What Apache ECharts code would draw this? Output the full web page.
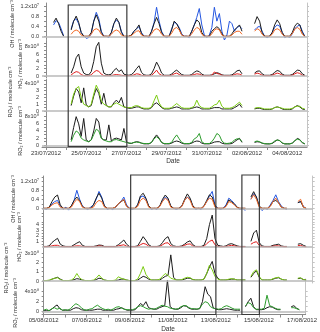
<!DOCTYPE html>
<html>
<head>
<meta charset="utf-8" />
<title>OH / HO2 / RO2</title>
<script type="text/javascript" src="https://cdn.jsdelivr.net/npm/echarts@6/dist/echarts.min.js"></script>
<style>
html, body { margin: 0; padding: 0; background: #fff; }
#main { width: 320px; height: 332px; }
</style>
</head>
<body>
<div id="main"></div>
<script type="text/javascript">
// 3-hourly values, top block starts 23/07/2012 00:00, bottom block starts 05/08/2012 00:00
var stepHours = 3;

// ---- top block (23/07 - 04/08), OH in 1e7, others in 1e8 ----
var topOhBlue = [
  null,null,null,0.45,0.62,0.55,0.3,0.02,
  null,null,0.3,0.62,0.7,0.5,0.15,0.02,
  -0.08,-0.05,0.1,0.6,0.95,0.7,0.2,0.0,
  0.0,-0.05,0.15,0.5,0.65,0.55,0.2,0.0,
  -0.05,0.0,0.05,0.2,0.3,0.38,0.15,0.0,
  0.0,-0.05,0.2,0.55,1.15,0.6,0.2,0.0,
  -0.05,0.0,0.3,0.55,0.5,0.35,0.1,0.0,
  0.0,-0.05,0.2,0.45,0.75,1.1,0.45,0.05,
  -0.05,0.05,0.35,1.15,0.6,0.9,0.2,-0.15,
  0.05,0.6,0.5,0.2,0.35,0.4,0.3,null,
  null,null,null,0.25,0.35,0.4,0.2,0.0,
  -0.05,0.0,0.15,0.35,0.45,0.4,0.15,-0.05,
  0.0,-0.05,0.1,0.3,0.4,0.45,0.2,0.0
];
var topOhBlack = [
  null,null,null,0.55,0.72,0.5,0.2,0.0,
  null,null,0.25,0.6,0.8,0.55,0.15,0.0,
  0.0,0.0,0.15,0.6,0.85,0.6,0.15,0.0,
  0.0,0.0,0.15,0.5,0.72,0.55,0.15,0.0,
  0.0,0.0,0.05,0.2,0.3,0.45,0.1,0.0,
  0.0,0.0,0.2,0.5,0.75,0.5,0.15,0.0,
  0.0,0.0,0.25,0.6,0.5,0.3,0.05,0.0,
  0.0,0.0,0.2,0.45,0.65,0.55,0.15,0.0,
  0.0,0.0,0.2,0.3,0.38,0.3,0.1,0.0,
  0.0,0.0,0.1,0.25,0.35,0.45,0.2,null,
  null,null,null,0.5,0.78,0.6,0.15,0.0,
  0.0,0.0,0.15,0.45,0.65,0.5,0.15,0.0,
  0.0,0.0,0.15,0.4,0.52,0.45,0.15,0.0
];
var topOhOrange = [
  null,null,null,null,null,null,null,null,
  null,null,0.08,0.2,0.25,0.2,0.05,0.0,
  0.0,0.0,0.08,0.25,0.3,0.25,0.08,0.0,
  0.0,0.0,0.08,0.2,0.25,0.2,0.05,0.0,
  0.0,0.0,0.03,0.12,0.2,0.22,0.05,0.0,
  0.0,0.0,0.1,0.25,0.3,0.25,0.08,0.0,
  0.0,0.0,0.12,0.3,0.35,0.25,0.05,0.0,
  0.0,0.0,0.1,0.25,0.35,0.3,0.08,0.0,
  0.0,0.0,0.1,0.25,0.3,0.25,0.05,0.0,
  0.0,0.0,0.05,0.15,0.2,0.2,0.08,null,
  null,null,null,0.2,0.3,0.25,0.08,0.0,
  0.0,0.0,0.08,0.25,0.3,0.25,0.08,0.0,
  0.0,0.0,0.1,0.28,0.35,0.28,0.08,0.0
];
var topHo2Black = [
  null,null,null,null,null,null,null,null,
  null,null,0.8,2.5,5.0,6.0,2.5,0.8,
  0.4,0.3,1.2,4.0,8.0,9.2,3.5,0.8,
  0.4,0.3,0.5,1.5,2.1,1.2,1.7,0.5,
  0.3,0.2,0.4,1.0,2.0,2.8,1.0,0.3,
  0.2,0.2,0.6,2.0,3.8,2.5,0.8,0.2,
  0.2,0.2,0.5,1.2,1.6,1.0,0.4,0.2,
  0.2,0.2,0.4,1.0,1.4,1.2,0.5,0.2,
  0.2,0.2,0.3,0.6,0.9,0.7,0.3,0.2,
  0.2,0.2,0.3,0.8,1.4,1.6,0.6,null,
  null,null,null,0.8,1.3,1.4,0.6,0.2,
  0.2,0.2,0.4,1.0,1.5,1.3,0.5,0.2,
  0.2,0.2,0.4,1.0,1.6,1.5,0.6,0.2
];
var topHo2Red = [
  null,null,null,null,null,null,null,null,
  null,null,0.3,0.8,1.2,1.0,0.4,0.1,
  0.1,0.1,0.3,1.0,1.5,1.3,0.5,0.1,
  0.1,0.1,0.1,0.3,0.4,0.3,0.2,0.1,
  0.1,0.1,0.1,0.3,0.6,0.5,0.2,0.1,
  0.1,0.1,0.2,0.8,1.6,0.6,0.2,0.1,
  0.1,0.1,0.2,0.6,0.8,0.4,0.1,0.1,
  0.1,0.1,0.2,0.4,0.6,0.5,0.2,0.1,
  0.1,0.1,0.2,1.1,0.7,0.5,0.2,0.1,
  0.1,0.1,0.1,0.4,0.6,0.5,0.2,null,
  null,null,null,0.5,0.8,0.6,0.2,0.1,
  0.1,0.1,0.2,0.5,0.8,0.6,0.2,0.1,
  0.1,0.1,0.2,0.6,0.9,0.7,0.2,0.1
];
var topRo2iGreen = [
  null,null,null,null,null,null,null,null,
  null,null,1.0,2.5,3.3,3.6,2.0,1.0,
  0.8,0.6,1.0,2.5,3.8,3.0,1.5,1.0,
  0.8,0.6,0.7,1.0,1.2,1.0,0.8,0.6,
  0.5,0.5,0.5,0.7,0.8,0.7,0.5,0.4,
  0.4,0.4,0.6,1.5,2.35,1.2,0.6,0.4,
  0.4,0.4,0.5,0.8,1.1,0.8,0.5,0.4,
  0.4,0.4,0.5,0.7,1.6,0.8,0.5,0.4,
  0.4,0.4,0.6,0.9,1.0,1.6,0.7,0.4,
  0.4,0.4,0.5,0.7,1.0,1.3,0.8,null,
  null,null,null,0.4,0.5,0.5,0.4,0.3,
  0.3,0.3,0.3,0.5,0.6,0.5,0.4,0.3,
  0.3,0.3,0.4,0.6,0.7,0.7,0.4,0.3
];
var topRo2iBlack = [
  null,null,null,null,null,null,null,null,
  null,null,0.8,2.2,3.3,2.8,1.2,3.4,
  0.9,0.6,0.8,2.2,3.3,2.6,1.0,2.6,
  0.8,0.6,0.6,1.2,1.6,1.2,2.0,0.6,
  0.5,0.4,0.4,0.5,0.6,0.6,0.4,0.3,
  0.3,0.3,0.5,1.0,1.2,0.9,0.5,0.3,
  0.3,0.3,0.4,0.5,0.6,0.5,0.3,0.3,
  0.3,0.3,0.4,0.5,0.6,0.5,0.3,0.3,
  0.3,0.3,0.4,0.5,0.5,0.5,0.3,0.3,
  0.3,0.3,0.3,0.5,0.7,1.0,0.5,null,
  null,null,null,0.3,0.4,0.4,0.3,0.2,
  0.2,0.2,0.3,0.5,0.6,0.5,0.3,0.2,
  0.2,0.2,0.3,0.6,0.8,0.6,0.3,0.2
];
var topRo2Green = [
  null,null,null,null,null,null,null,null,
  null,null,1.0,2.8,4.0,3.5,2.0,1.5,
  1.2,1.0,1.5,3.0,4.5,4.0,2.0,1.5,
  1.2,1.0,1.0,1.5,1.6,1.4,1.2,1.0,
  0.8,0.6,0.6,0.8,0.9,0.8,0.6,0.5,
  0.5,0.5,0.8,1.8,2.4,1.8,0.8,0.5,
  0.5,0.5,0.8,2.0,2.9,1.8,0.8,0.5,
  0.5,0.5,0.8,1.8,2.2,3.3,1.0,0.5,
  0.5,0.5,1.0,2.0,3.3,2.8,1.2,0.6,
  0.5,0.6,0.8,1.5,1.8,1.8,1.0,null,
  null,null,null,1.0,1.2,1.0,0.6,0.5,
  0.4,0.4,0.6,1.2,1.5,1.3,0.7,0.4,
  0.4,0.4,0.6,1.3,1.7,1.5,0.8,0.4
];
var topRo2Black = [
  null,null,null,null,null,null,null,null,
  null,null,1.5,5.0,8.0,6.0,2.5,7.5,
  1.5,1.0,1.5,4.0,7.5,6.5,2.0,1.5,
  1.5,5.7,1.2,1.8,2.0,1.8,1.5,4.7,
  1.0,0.6,0.5,0.8,1.0,0.9,0.6,0.4,
  0.4,0.4,0.8,2.0,2.9,2.0,0.8,0.4,
  0.4,0.4,0.6,1.0,1.2,1.0,0.6,0.4,
  0.4,0.4,0.6,1.0,1.2,1.1,0.6,0.4,
  0.4,0.4,0.6,0.9,1.0,1.0,0.6,0.4,
  0.4,0.4,0.5,1.0,1.5,1.95,0.8,null,
  null,null,null,0.8,1.0,0.9,0.6,0.4,
  0.4,0.4,0.5,1.0,1.5,1.3,0.6,0.4,
  0.4,0.4,0.6,1.2,1.95,1.6,0.7,0.4
];

// ---- bottom block (05/08 - 16/08) ----
var botOhBlue = [
  0.0,-0.05,0.05,0.2,0.3,0.35,0.1,-0.05,
  0.05,-0.08,0.1,0.35,0.8,0.4,0.1,0.0,
  -0.05,0.05,0.15,0.4,0.75,0.5,0.1,-0.05,
  0.0,-0.05,0.05,0.2,0.3,0.5,0.15,0.0,
  -0.05,0.0,0.15,0.5,0.55,0.4,0.1,-0.05,
  0.0,-0.05,0.1,0.35,0.5,0.4,0.1,0.0,
  -0.05,0.0,0.1,0.35,0.5,0.4,0.1,-0.05,
  0.0,-0.05,0.1,0.3,0.55,0.75,0.15,0.0,
  -0.05,0.0,0.15,0.45,0.35,0.2,0.05,-0.05,
  0.0,-0.1,null,0.4,0.65,0.5,0.1,-0.1,
  0.0,-0.05,0.15,0.35,0.6,0.3,0.1,0.0,
  -0.05,null,null,null,0.25,0.3,0.1,-0.05
];
var botOhBlack = [
  0.0,0.0,0.05,0.3,0.5,0.59,0.15,0.0,
  0.0,0.0,0.1,0.35,0.5,0.35,0.08,0.0,
  0.0,0.0,0.15,0.45,0.67,0.45,0.1,0.0,
  0.0,0.0,0.05,0.2,0.3,0.37,0.1,0.0,
  0.0,0.0,0.15,0.55,0.67,0.45,0.1,0.0,
  0.0,0.0,0.1,0.4,0.59,0.45,0.1,0.0,
  0.0,0.0,0.1,0.4,0.64,0.45,0.1,0.0,
  0.0,0.0,0.1,0.35,0.6,0.5,0.1,0.0,
  0.0,0.0,0.1,0.37,0.3,0.2,0.05,0.0,
  0.0,0.0,null,0.5,0.74,0.5,0.1,0.0,
  0.0,0.0,0.1,0.3,0.35,0.25,0.05,0.0,
  0.0,null,null,null,0.25,0.3,0.05,0.0
];
var botOhOrange = [
  0.0,0.0,0.03,0.15,0.22,0.25,0.05,0.0,
  0.0,0.0,0.05,0.25,0.4,0.3,0.05,0.0,
  0.0,0.0,0.05,0.25,0.35,0.3,0.05,0.0,
  0.0,0.0,0.05,0.2,0.3,0.4,0.08,0.0,
  0.0,0.0,0.08,0.35,0.45,0.35,0.05,0.0,
  0.0,0.0,0.08,0.3,0.45,0.35,0.05,0.0,
  0.0,0.0,0.08,0.35,0.5,0.35,0.05,0.0,
  0.0,0.0,0.08,0.3,0.45,0.4,0.05,0.0,
  0.0,0.0,0.08,0.3,0.25,0.15,0.03,0.0,
  0.0,0.0,null,0.4,0.6,0.4,0.05,0.0,
  0.0,0.0,0.08,0.3,0.45,0.25,0.05,0.0,
  0.0,null,null,null,0.3,0.4,0.05,0.0
];
var botHo2Black = [
  0.1,0.1,0.2,0.8,1.2,1.55,0.5,0.2,
  0.1,0.1,0.1,0.4,0.7,0.95,0.3,0.1,
  0.1,0.1,0.1,0.2,0.35,0.3,0.1,0.1,
  0.1,0.1,0.1,0.4,0.8,1.25,0.5,0.1,
  0.1,0.1,0.2,1.0,1.85,1.2,0.4,0.1,
  0.1,0.1,0.2,0.8,1.5,1.85,0.6,0.2,
  0.1,0.1,0.2,0.5,0.9,1.1,0.4,0.1,
  0.1,0.1,0.3,1.5,4.0,5.7,1.5,0.3,
  0.2,0.1,0.2,0.5,0.6,0.4,0.2,0.1,
  0.1,0.1,null,1.0,2.5,3.0,0.8,0.2,
  0.1,0.1,0.1,0.3,0.4,0.5,0.2,0.1,
  0.1,null,null,null,0.5,0.6,0.3,0.1
];
var botHo2Red = [
  0.05,0.05,0.1,0.2,0.3,0.3,0.1,0.05,
  0.05,0.05,0.05,0.15,0.2,0.2,0.1,0.05,
  0.05,0.05,0.05,0.1,0.2,0.15,0.05,0.05,
  0.05,0.05,0.05,0.2,0.3,0.4,0.15,0.05,
  0.05,0.05,0.1,0.4,0.65,0.5,0.15,0.05,
  0.05,0.05,0.1,0.4,0.7,0.75,0.2,0.05,
  0.05,0.05,0.1,0.3,0.5,0.55,0.15,0.05,
  0.05,0.05,0.1,0.6,1.0,1.25,0.4,0.1,
  0.05,0.05,0.1,0.2,0.3,0.2,0.1,0.05,
  0.05,0.05,null,0.5,0.8,0.95,0.3,0.05,
  0.05,0.05,0.05,0.15,0.2,0.2,0.1,0.05,
  0.05,null,null,null,0.25,0.3,0.1,0.05
];
var botRo2iGreen = [
  0.05,0.05,0.1,0.2,0.3,0.35,0.15,0.05,
  0.05,0.05,0.1,0.3,0.8,0.35,0.1,0.05,
  0.05,0.05,0.1,0.3,0.65,0.3,0.1,0.05,
  0.05,0.05,0.1,0.45,0.3,0.2,0.1,0.05,
  0.05,0.05,0.2,0.8,1.55,0.7,0.3,0.1,
  0.1,0.1,0.2,0.5,0.8,0.6,0.3,0.2,
  0.1,0.1,0.15,0.3,0.4,0.35,0.15,0.1,
  0.1,0.1,0.2,0.8,1.7,1.2,0.5,0.2,
  0.1,0.1,0.1,0.2,0.25,0.2,0.1,0.1,
  0.1,0.1,null,0.5,1.0,1.2,0.5,0.1,
  0.1,0.1,0.1,0.25,0.35,0.4,0.2,0.1,
  0.1,null,null,null,0.3,0.35,0.15,0.1
];
var botRo2iBlack = [
  0.05,0.05,0.05,0.2,0.3,0.4,0.2,0.05,
  0.05,0.05,0.05,0.15,0.25,0.2,0.1,0.05,
  0.05,0.05,0.05,0.15,0.3,0.25,0.1,0.05,
  0.05,0.05,0.05,0.1,0.2,0.2,0.1,0.05,
  0.05,0.05,0.1,0.3,0.5,0.4,0.2,0.1,
  0.1,0.1,0.1,0.3,0.5,0.6,2.8,0.4,
  0.1,0.1,0.1,0.2,0.3,0.3,0.15,0.1,
  0.1,0.1,0.2,0.8,1.5,2.1,0.8,0.3,
  0.1,0.1,0.1,0.15,0.2,0.2,0.1,0.1,
  0.1,0.1,null,0.4,0.8,1.1,0.4,0.1,
  0.1,0.1,0.1,0.2,0.3,0.35,0.2,0.1,
  0.1,null,null,null,0.25,0.3,0.15,0.1
];
var botRo2Green = [
  0.3,0.5,0.2,0.6,0.8,0.5,0.7,0.3,
  0.4,0.3,0.6,1.2,1.6,1.3,0.8,0.4,
  0.3,0.5,0.6,1.0,1.3,0.9,0.6,0.4,
  0.5,0.3,0.6,0.9,1.0,0.7,0.5,0.4,
  0.4,0.4,0.6,1.0,1.2,1.0,0.7,0.5,
  0.6,0.5,0.7,1.0,1.3,1.1,1.0,0.7,
  0.6,0.5,0.6,1.0,1.2,1.2,0.8,0.6,
  0.6,0.5,0.7,1.5,2.0,1.8,1.0,0.7,
  0.6,0.5,0.6,1.0,1.2,1.0,0.7,0.5,
  0.5,0.5,null,1.2,1.8,1.6,0.8,0.5,
  0.5,0.5,0.7,3.3,1.2,1.0,0.7,0.5,
  0.5,null,null,null,0.8,0.8,0.6,0.4
];
var botRo2Black = [
  0.2,0.2,0.2,0.5,1.0,1.35,0.6,0.3,
  0.3,0.3,0.3,0.6,0.8,0.7,0.4,0.3,
  0.3,0.3,0.3,0.4,0.5,0.5,0.3,0.3,
  0.3,0.3,0.3,0.5,0.6,0.8,0.5,0.3,
  0.3,0.3,0.4,1.0,1.65,1.2,2.0,0.8,
  0.6,0.5,0.5,0.8,1.0,1.2,6.3,1.0,
  0.6,0.5,0.5,0.8,1.2,1.1,0.7,0.5,
  0.5,0.5,0.6,2.0,5.0,3.5,3.0,0.8,
  0.5,0.4,0.4,0.5,0.6,0.5,0.4,0.3,
  0.3,0.3,null,1.0,2.0,2.7,1.0,0.4,
  0.4,0.4,0.5,0.8,1.0,0.9,0.6,0.4,
  0.4,null,null,null,1.0,1.2,0.7,0.4
];

// x tick labels (hours from block start)
var dateTickHours = [0, 48, 96, 144, 192, 240, 288];
var dayTickHours = [0, 24, 48, 72, 96, 120, 144, 168, 192, 216, 240, 264, 288];
var topDateLabels = ['23/07/2012', '25/07/2012', '27/07/2012', '29/07/2012', '31/07/2012', '02/08/2012', '04/08/2012'];
var botDateLabels = ['05/08/2012', '07/08/2012', '09/08/2012', '11/08/2012', '13/08/2012', '15/08/2012', '17/08/2012'];

// y tick labels per panel
var ohLabelVals = [0, 0.4, 0.8, 1.2];
var topOhLabels = ['0.0', '0.4', '0.8', '1.2x10\u2077'];
var botOhLabels = ['0', '0.4', '0.8', '1.2x10\u2077'];
var topHo2LabelVals = [0, 2, 4, 6, 8];
var topHo2Labels = ['0', '2', '4', '6', '8x10\u2078'];
var topRo2iLabelVals = [0, 1, 2, 3, 4];
var topRo2iLabels = ['0', '1', '2', '3', '4x10\u2078'];
var topRo2LabelVals = [0, 2, 4, 6, 8];
var topRo2Labels = ['0', '2', '4', '6', '8x10\u2078'];
var botHo2LabelVals = [0, 1, 2, 3, 4, 5];
var botHo2Labels = ['0', '1', '2', '3', '4', '5x10\u2078'];
var botRo2iLabelVals = [0, 1, 2, 3];
var botRo2iLabels = ['0', '1', '2', '3x10\u2078'];
var botRo2LabelVals = [0, 2, 4];
var botRo2Labels = ['0', '2', '4x10\u2078'];

// boxes marking periods (hours from block start)
var topBoxes = [[26.5, 96.5]];
var botBoxes = [[97, 192], [221, 240.5]];

var C_BLUE = '#2456e0', C_ORANGE = '#f26a26', C_BLACK = '#1c1c1c', C_RED = '#e21d1d',
    C_LGREEN = '#7ccc14', C_DGREEN = '#2c9c2c';
var FONT = 'Liberation Sans, Arial, sans-serif';

function range(a, b, s) { var r = []; for (var v = a; v <= b + 1e-9; v += s) r.push(Math.round(v * 100) / 100); return r; }

var topX = [-4.8, 311.6];
var botX = [-1.85, 292.1];

var panels = [
  { top: 3, height: 36.5, x: topX, y: [-0.127, 1.319], vals: ohLabelVals, labels: topOhLabels, ticks: range(0, 1.2, 0.2),
    lines: [[topOhBlue, C_BLUE], [topOhBlack, C_BLACK], [topOhOrange, C_ORANGE]] },
  { top: 40.5, height: 37.5, x: topX, y: [-0.546, 9.70], vals: topHo2LabelVals, labels: topHo2Labels, ticks: range(0, 9, 1),
    lines: [[topHo2Black, C_BLACK], [topHo2Red, C_RED]] },
  { top: 79.5, height: 33.5, x: topX, y: [-0.294, 4.63], vals: topRo2iLabelVals, labels: topRo2iLabels, ticks: range(0, 4.5, 0.5),
    lines: [[topRo2iBlack, C_BLACK], [topRo2iGreen, C_LGREEN]] },
  { top: 113.5, height: 33.5, x: topX, y: [-0.475, 8.88], vals: topRo2LabelVals, labels: topRo2Labels, ticks: range(0, 8, 1),
    lines: [[topRo2Black, C_BLACK], [topRo2Green, C_DGREEN]], dates: topDateLabels },
  { top: 176, height: 34.5, x: botX, y: [-0.098, 1.436], vals: ohLabelVals, labels: botOhLabels, ticks: range(0, 1.4, 0.2),
    lines: [[botOhBlue, C_BLUE], [botOhBlack, C_BLACK], [botOhOrange, C_ORANGE]] },
  { top: 211, height: 38, x: botX, y: [-0.357, 6.43], vals: botHo2LabelVals, labels: botHo2Labels, ticks: range(0, 6, 0.5),
    lines: [[botHo2Black, C_BLACK], [botHo2Red, C_RED]] },
  { top: 249.5, height: 33.5, x: botX, y: [-0.214, 3.376], vals: botRo2iLabelVals, labels: botRo2iLabels, ticks: range(0, 3, 0.5),
    lines: [[botRo2iBlack, C_BLACK], [botRo2iGreen, C_LGREEN]] },
  { top: 279, height: 35.5, x: botX, y: [-0.56, 6.54], vals: botRo2LabelVals, labels: botRo2Labels, ticks: range(0, 4, 1),
    lines: [[botRo2Black, C_BLACK], [botRo2Green, C_DGREEN]], dates: botDateLabels }
];

function toPairs(vals) {
  var out = [];
  for (var i = 0; i < vals.length; i++) {
    out.push([i * stepHours, vals[i] === null ? '-' : vals[i]]);
  }
  return out;
}

var grids = [], xAxes = [], yAxes = [], series = [];
panels.forEach(function (p, gi) {
  var isTop = gi < 4;
  grids.push({ left: 42, right: isTop ? 13 : 7.3, top: p.top, height: p.height });
  var xa = { type: 'value', gridIndex: gi, min: p.x[0], max: p.x[1], splitLine: { show: false } };
  if (p.dates) {
    var labs = p.dates;
    xa.axisLine = { show: true, onZero: false, lineStyle: { color: '#8a8a8a', width: 1 } };
    xa.axisTick = { show: true, customValues: dayTickHours, length: 3, lineStyle: { color: '#8a8a8a' } };
    xa.axisLabel = { show: true, customValues: dateTickHours, margin: 3, fontSize: 6, fontFamily: FONT, color: '#333',
      formatter: function (v) { var k = dateTickHours.indexOf(Math.round(v)); return k >= 0 ? labs[k] : ''; } };
  } else {
    xa.axisLine = { show: false }; xa.axisTick = { show: false }; xa.axisLabel = { show: false };
  }
  xAxes.push(xa);
  var vals = p.vals, labels = p.labels;
  yAxes.push({ type: 'value', gridIndex: gi, position: 'left', min: p.y[0], max: p.y[1], splitLine: { show: false },
    axisLine: { show: true, lineStyle: { color: '#8a8a8a', width: 1 } },
    axisTick: { show: true, customValues: p.ticks, length: 2, lineStyle: { color: '#8a8a8a' } },
    axisLabel: { show: true, customValues: vals, margin: 3, fontSize: 5.5, fontFamily: FONT, color: '#333',
      formatter: function (v) {
        var best = 0;
        for (var k = 1; k < vals.length; k++) if (Math.abs(vals[k] - v) < Math.abs(vals[best] - v)) best = k;
        return labels[best];
      } } });
  yAxes.push({ type: 'value', gridIndex: gi, position: 'right', min: p.y[0], max: p.y[1], splitLine: { show: false },
    axisLine: { show: true, lineStyle: { color: '#c4c4c4', width: 1 } },
    axisTick: { show: true, customValues: p.ticks, length: 2, lineStyle: { color: '#c4c4c4' } },
    axisLabel: { show: false } });
  p.lines.forEach(function (ln, li) {
    var s = { type: 'line', xAxisIndex: gi, yAxisIndex: gi * 2, data: toPairs(ln[0]), showSymbol: false,
      connectNulls: false, z: 2 + li, lineStyle: { color: ln[1], width: 1 }, itemStyle: { color: ln[1] } };
    if (li === 0) {
      s.markLine = { silent: true, symbol: 'none', label: { show: false }, animation: false,
        lineStyle: { color: '#b8b8b8', width: 1.5, type: 'solid' }, data: [{ yAxis: 0 }] };
    }
    series.push(s);
  });
});

var titleTexts = [
  ['OH / molecule cm\u207B\u00B3', 12, 24],
  ['HO\u2082 / molecule cm\u207B\u00B3', 20, 64],
  ['RO\u2082i / molecule cm\u207B\u00B3', 10, 92],
  ['RO\u2082 / molecule cm\u207B\u00B3', 20, 131],
  ['OH / molecule cm\u207B\u00B3', 13, 199],
  ['HO\u2082 / molecule cm\u207B\u00B3', 19, 237],
  ['RO\u2082i / molecule cm\u207B\u00B3', 6, 268],
  ['RO\u2082 / molecule cm\u207B\u00B3', 15, 303]
];

var chart = echarts.init(document.getElementById('main'));
chart.setOption({
  animation: false,
  backgroundColor: '#fff',
  grid: grids,
  xAxis: xAxes,
  yAxis: yAxes,
  series: series
});

var graphics = [];
titleTexts.forEach(function (t) {
  graphics.push({ type: 'text', x: t[1], y: t[2], rotation: Math.PI / 2, z: 50,
    style: { text: t[0], fontSize: 5.5, fontFamily: FONT, fill: '#333', textAlign: 'center', textVerticalAlign: 'middle' } });
});
graphics.push({ type: 'text', x: 173, y: 161, z: 50,
  style: { text: 'Date', fontSize: 6.5, fontFamily: FONT, fill: '#333', textAlign: 'center', textVerticalAlign: 'middle' } });
graphics.push({ type: 'text', x: 168, y: 329, z: 50,
  style: { text: 'Date', fontSize: 6.5, fontFamily: FONT, fill: '#333', textAlign: 'center', textVerticalAlign: 'middle' } });

function addBoxes(list, axisIndex, y0, y1) {
  list.forEach(function (b) {
    var x1 = chart.convertToPixel({ xAxisIndex: axisIndex }, b[0]);
    var x2 = chart.convertToPixel({ xAxisIndex: axisIndex }, b[1]);
    graphics.push({ type: 'rect', z: 60, shape: { x: x1, y: y0, width: x2 - x1, height: y1 - y0 },
      style: { fill: 'none', stroke: '#3a3a3a', lineWidth: 1.2 } });
  });
}
addBoxes(topBoxes, 3, 5, 146.5);
addBoxes(botBoxes, 7, 175, 314.5);

chart.setOption({ graphic: graphics });
</script>
</body>
</html>
